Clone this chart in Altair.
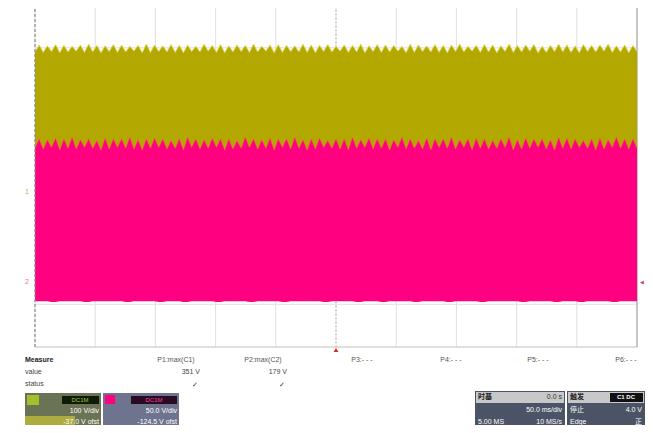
import altair as alt
import pandas as pd

# ---------------- values ----------------
grid_x = [-5, -4, -3, -2, -1, 0, 1, 2, 3, 4, 5]          # time divisions
grid_y = [-4, -3, -2, -1, 0, 1, 2, 3, 4]                  # vertical divisions

c1_vdiv = 100.0     # V/div
c1_offset = -37.0   # V
c2_vdiv = 50.0      # V/div
c2_offset = -124.5  # V

# C1 (yellow) envelope: tooth tips and notches of the top edge, in volts
c1_peaks = [343, 341, 344, 342, 340, 343, 345, 342, 341, 344,
            343, 340, 342, 345, 343, 341, 344, 342, 343, 340,
            345, 342, 344, 341, 343, 342, 345, 340, 343, 344,
            342, 341, 345, 343, 342, 344, 340, 343, 342, 345,
            341, 344, 343, 342, 340, 345, 343, 341, 344, 342,
            343, 345, 340, 342, 344, 343, 341, 345, 342, 343,
            344, 340, 342, 345, 343, 341, 344, 342, 343, 345,
            341, 343, 342]
c1_valleys = [327, 326, 328, 325, 327, 329, 326, 327, 325, 328,
              326, 327, 329, 325, 326, 328, 327, 326, 325, 328,
              327, 329, 326, 325, 327, 328, 326, 327, 329, 325,
              326, 328, 327, 326, 325, 328, 327, 329, 326, 327,
              325, 328, 326, 327, 329, 325, 326, 328, 327, 326,
              325, 328, 327, 329, 326, 327, 325, 328, 326, 327,
              329, 325, 326, 328, 327, 326, 325, 328, 327, 329,
              326, 327, 325, 328]
c1_floor = 0.0

# C2 (magenta) envelope, in volts
c2_peaks = [168, 167, 169, 168, 170, 167, 168, 166, 169, 168,
            168, 170, 167, 168, 169, 168, 166, 168, 170, 168,
            167, 169, 168, 168, 166, 170, 168, 167, 169, 168,
            168, 170, 167, 168, 169, 166, 168, 168, 170, 167,
            169, 168, 168, 167, 170, 168, 166, 169, 168, 168,
            170, 167, 168, 169, 168, 166, 168, 170, 167, 169,
            168, 168, 167, 170, 169, 168, 166, 168, 169, 167,
            170, 168, 168]
c2_valleys = [157, 156, 158, 155, 157, 156, 158, 157, 155, 156,
              158, 157, 156, 155, 157, 158, 156, 157, 155, 158,
              156, 157, 158, 155, 156, 157, 158, 156, 157, 155,
              158, 156, 157, 155, 156, 158, 157, 156, 155, 157,
              158, 156, 157, 155, 158, 156, 157, 156, 155, 158,
              157, 156, 158, 155, 157, 156, 157, 158, 155, 156,
              157, 158, 156, 155, 157, 156, 158, 157, 155, 156,
              158, 157, 156, 157]
c2_low = [-22, -22, -23, -22, -22, -22, -23, -22, -22, -22,
          -22, -23, -22, -22, -22, -23, -22, -22, -23, -22,
          -22, -22, -23, -22, -22, -22, -23, -22, -22, -22,
          -23, -22, -22, -22, -22, -23, -22, -22, -22, -23,
          -22, -22, -23, -22, -22, -22, -23, -22, -22, -22,
          -23, -22, -22, -22, -23, -22, -22, -22, -22, -23,
          -22, -22, -22, -23, -22, -22, -23, -22, -22, -22,
          -23, -22, -22, -22]

measure_headers = ["P1:max(C1)", "P2:max(C2)", "P3:- - -", "P4:- - -", "P5:- - -", "P6:- - -"]
measure_values = ["351 V", "179 V", "", "", "", ""]
measure_status = ["\u2713", "\u2713", "", "", "", ""]
row_labels = ["Measure", "value", "status"]

c1_texts = ["DC1M", "100 V/div", "-37.0 V ofst"]
c2_texts = ["DC1M", "50.0 V/div", "-124.5 V ofst"]
tb_texts = ["时基", "0.0 s", "50.0 ms/div", "5.00 MS", "10 MS/s"]
trig_texts = ["触发", "C1 DC", "停止", "4.0 V", "Edge", "正"]

# ---------------- layout (pixels, screen coords) ----------------
W, H = 602, 342
OX, OY = 35, 5          # screen position of plot area's top-left


def sx(v):
    return v - OX


def sy(v):
    return v - OY


YEL = "#B3A800"
PINK = "#FF0080"

xs = alt.Scale(domain=[-5, 5], nice=False, zero=False)
ys = alt.Scale(domain=[-4, 4], nice=False, zero=False)

# ---------------- wave table ----------------
n = min(len(c1_peaks), len(c2_peaks), len(c1_valleys) - 1,
        len(c2_valleys) - 1, len(c2_low) - 1)
rows = []
for k in range(2 * n + 1):
    t = -5 + 10 * k / (2 * n)
    if k % 2 == 0:
        v1, v2 = c1_valleys[k // 2], c2_valleys[k // 2]
    else:
        v1, v2 = c1_peaks[k // 2], c2_peaks[k // 2]
    rows.append(dict(
        t=t,
        c1_top=(v1 + c1_offset) / c1_vdiv,
        c1_bot=(c1_floor + c1_offset) / c1_vdiv,
        c2_top=(v2 + c2_offset) / c2_vdiv,
        c2_bot=(c2_low[k // 2] + c2_offset) / c2_vdiv,
    ))
wave = pd.DataFrame(rows)

X = lambda f: alt.X(f, type="quantitative", scale=xs, axis=None)
Y = lambda f: alt.Y(f, type="quantitative", scale=ys, axis=None)

hgrid = pd.DataFrame({"d": grid_y, "a": -5, "b": 5})
vgrid = pd.DataFrame({"t": grid_x, "a": -4, "b": 4})

hg = alt.Chart(hgrid).mark_rule(color="#e0e0e0", strokeWidth=1).encode(
    y=Y("d"), x=X("a"), x2="b")
vg = alt.Chart(vgrid).mark_rule(color="#e0e0e0", strokeWidth=1).encode(
    x=X("t"), y=Y("a"), y2="b")

c1_area = alt.Chart(wave).mark_area(color=YEL, opacity=1).encode(
    x=X("t"), y=Y("c1_top"), y2="c1_bot")
c1_edge = alt.Chart(wave).mark_line(color="#d9d23a", strokeWidth=1).encode(
    x=X("t"), y=Y("c1_top"))
c2_area = alt.Chart(wave).mark_area(color=PINK, opacity=1).encode(
    x=X("t"), y=Y("c2_top"), y2="c2_bot")
c2_edge = alt.Chart(wave).mark_line(color="#f06a3a", strokeWidth=1, opacity=0.6).encode(
    x=X("t"), y=Y("c2_top"))

frame = pd.DataFrame({"t": [-5, 0, 5], "a": -4, "b": 4,
                      "c": ["left", "mid", "right"]})
left_b = alt.Chart(frame[frame.c == "left"]).mark_rule(
    color="#8a8a8a", strokeWidth=1.2, strokeDash=[3, 2]).encode(x=X("t"), y=Y("a"), y2="b")
mid_b = alt.Chart(frame[frame.c == "mid"]).mark_rule(
    color="#9a9a9a", strokeWidth=1, strokeDash=[1, 3]).encode(x=X("t"), y=Y("a"), y2="b")
right_b = alt.Chart(frame[frame.c == "right"]).mark_rule(
    color="#a8a8a8", strokeWidth=1.2).encode(x=X("t"), y=Y("a"), y2="b")
tb_border = alt.Chart(hgrid[hgrid.d.abs() == 4]).mark_rule(
    color="#cfcfcf", strokeWidth=1).encode(y=Y("d"), x=X("a"), x2="b")

# channel ground markers
gm = pd.DataFrame({
    "d": [c1_offset / c1_vdiv, c2_offset / c2_vdiv],
    "lab": ["1", "2"],
    "col": ["#b8b060", "#f070a0"],
})
gmarks = alt.Chart(gm).mark_text(fontSize=7, font="Liberation Sans", align="center").encode(
    x=alt.value(-8), y=Y("d"), text="lab", color=alt.Color("col:N", scale=None))
gright = alt.Chart(gm[gm.lab == "2"]).mark_text(fontSize=5, text="\u25C0", color="#c04080").encode(
    x=alt.value(W + 5), y=Y("d"))

trig = alt.Chart(pd.DataFrame({"t": [0]})).mark_point(
    shape="triangle-up", filled=True, color="#e02020", size=22, opacity=1).encode(
    x=X("t"), y=alt.value(sy(350)))

# ---------------- bottom panel: boxes ----------------
boxes = pd.DataFrame([
    dict(x=25, x2=101, y=393, y2=430, c="#6b7355"),
    dict(x=25, x2=75, y=416, y2=430, c="#aeac3e"),
    dict(x=27, x2=39, y=395, y2=405, c="#a4bf2c"),
    dict(x=62, x2=99, y=396, y2=404, c="#0f1a08"),
    dict(x=103, x2=179, y=393, y2=430, c="#6e748e"),
    dict(x=105, x2=115, y=395, y2=404, c="#ff0080"),
    dict(x=131, x2=177, y=396, y2=404, c="#2a0a22"),
    dict(x=475, x2=565, y=391, y2=430, c="#4b5366"),
    dict(x=476, x2=564, y=392, y2=403, c="#c8c8c8"),
    dict(x=567, x2=645, y=391, y2=430, c="#4b5366"),
    dict(x=568, x2=644, y=392, y2=403, c="#c8c8c8"),
    dict(x=610, x2=643, y=393, y2=402, c="#111111"),
])
for col in ["x", "x2"]:
    boxes[col] = boxes[col].map(sx)
for col in ["y", "y2"]:
    boxes[col] = boxes[col].map(sy)
box_layer = alt.Chart(boxes).mark_rect().encode(
    x=alt.X("x:Q", scale=None), x2="x2", y=alt.Y("y:Q", scale=None), y2="y2",
    color=alt.Color("c:N", scale=None))

# ---------------- bottom panel: texts ----------------
col_x = [176, 263, 362, 451, 538, 626]
txt = []
txt.append(dict(x=25, y=360, s=row_labels[0], a="left", c="#222", w="bold", f="Liberation Sans", z=7))
txt.append(dict(x=25, y=372, s=row_labels[1], a="left", c="#444", w="normal", f="Liberation Sans", z=7))
txt.append(dict(x=25, y=384, s=row_labels[2], a="left", c="#444", w="normal", f="Liberation Sans", z=7))
for cx, hd, vv, st in zip(col_x, measure_headers, measure_values, measure_status):
    txt.append(dict(x=cx, y=360, s=hd, a="center", c="#555", w="normal", f="Liberation Sans", z=7))
    if vv:
        txt.append(dict(x=cx + 24, y=372, s=vv, a="right", c="#444", w="normal", f="Liberation Sans", z=7))
    if st:
        txt.append(dict(x=cx + 19, y=385, s=st, a="center", c="#333", w="bold", f="DejaVu Sans", z=7))
# channel boxes
txt.append(dict(x=80, y=400, s=c1_texts[0], a="center", c="#9ccc3c", w="normal", f="Liberation Sans", z=6))
txt.append(dict(x=99, y=411, s=c1_texts[1], a="right", c="#ffffff", w="normal", f="Liberation Sans", z=7))
txt.append(dict(x=99, y=422, s=c1_texts[2], a="right", c="#ffffff", w="normal", f="Liberation Sans", z=7))
txt.append(dict(x=154, y=400, s=c2_texts[0], a="center", c="#ff3da0", w="normal", f="Liberation Sans", z=6))
txt.append(dict(x=177, y=411, s=c2_texts[1], a="right", c="#ffffff", w="normal", f="Liberation Sans", z=7))
txt.append(dict(x=177, y=422, s=c2_texts[2], a="right", c="#ffffff", w="normal", f="Liberation Sans", z=7))
# timebase box
cjk = "Noto Sans CJK SC"
txt.append(dict(x=478, y=397, s=tb_texts[0], a="left", c="#222", w="bold", f=cjk, z=7))
txt.append(dict(x=562, y=397, s=tb_texts[1], a="right", c="#333", w="normal", f="Liberation Sans", z=7))
txt.append(dict(x=562, y=410, s=tb_texts[2], a="right", c="#ffffff", w="normal", f="Liberation Sans", z=7))
txt.append(dict(x=478, y=422, s=tb_texts[3], a="left", c="#ffffff", w="normal", f="Liberation Sans", z=7))
txt.append(dict(x=562, y=422, s=tb_texts[4], a="right", c="#ffffff", w="normal", f="Liberation Sans", z=7))
# trigger box
txt.append(dict(x=570, y=397, s=trig_texts[0], a="left", c="#222", w="bold", f=cjk, z=7))
txt.append(dict(x=626, y=397, s=trig_texts[1], a="center", c="#ffffff", w="bold", f="Liberation Sans", z=6))
txt.append(dict(x=570, y=410, s=trig_texts[2], a="left", c="#ffffff", w="normal", f=cjk, z=7))
txt.append(dict(x=642, y=410, s=trig_texts[3], a="right", c="#ffffff", w="normal", f="Liberation Sans", z=7))
txt.append(dict(x=570, y=422, s=trig_texts[4], a="left", c="#ffffff", w="normal", f="Liberation Sans", z=7))
txt.append(dict(x=642, y=422, s=trig_texts[5], a="right", c="#ffffff", w="normal", f=cjk, z=7))

tdf = pd.DataFrame(txt)
tdf["x"] = tdf["x"].map(sx)
tdf["y"] = tdf["y"].map(sy)

text_layers = []
for (a, w, f, z), g in tdf.groupby(["a", "w", "f", "z"]):
    text_layers.append(
        alt.Chart(g).mark_text(align=a, baseline="middle", fontWeight=w, font=f, fontSize=z).encode(
            x=alt.X("x:Q", scale=None), y=alt.Y("y:Q", scale=None), text="s:N",
            color=alt.Color("c:N", scale=None))
    )

chart = alt.layer(
    hg, vg, tb_border, mid_b, right_b,
    c1_area, c1_edge, c2_area, c2_edge, left_b,
    gmarks, gright, trig, box_layer, *text_layers
).properties(
    width=W, height=H,
    autosize=alt.AutoSizeParams(type="none"),
    padding={"left": 27, "top": -3, "right": 8, "bottom": 78},
    background="white",
).configure_view(stroke=None)

chart.save("out.html", embed_options={"renderer": "svg", "actions": False})
